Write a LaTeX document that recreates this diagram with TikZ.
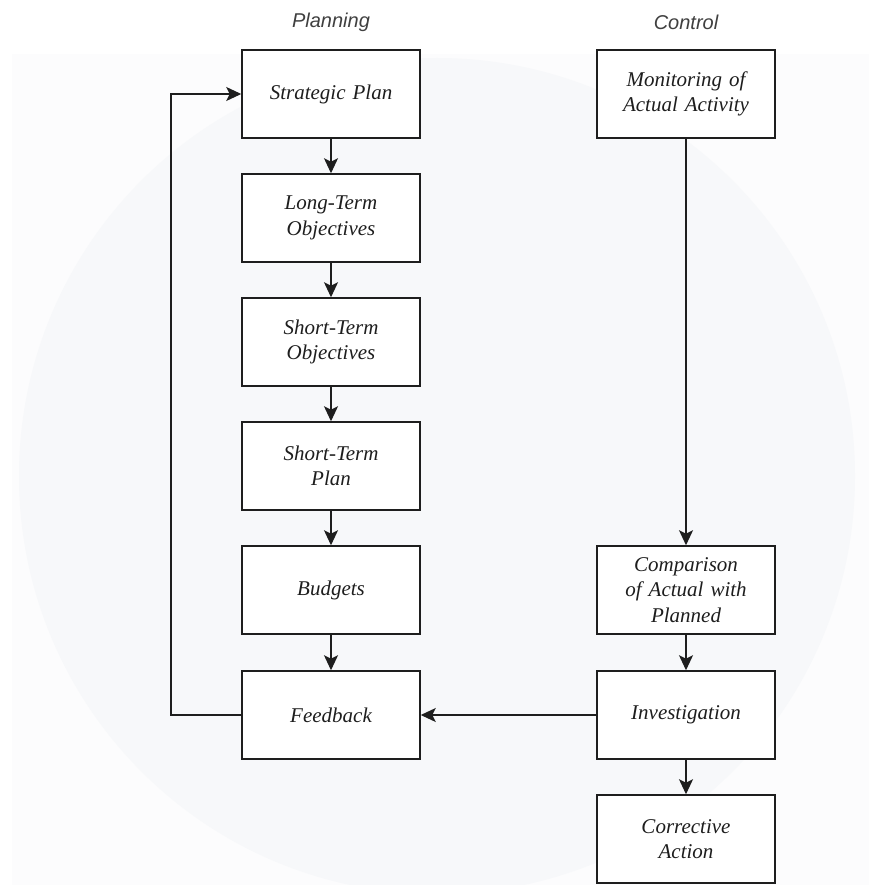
\documentclass[tikz,border=0pt]{standalone}
\usepackage{fontspec}
\setmainfont{Liberation Serif}
\setsansfont{Liberation Sans}
\usetikzlibrary{arrows.meta}
\definecolor{bgrect}{HTML}{FCFCFD}
\definecolor{bgcirc}{HTML}{F7F8FA}
\definecolor{ink}{HTML}{1E1E1E}
\tikzset{
  box/.style={draw=ink, line width=1.5pt, fill=white, minimum width=178pt, minimum height=88pt,
    inner sep=2pt, align=center, text width=170pt,
    font=\fontsize{21}{25.5}\selectfont\itshape, text=ink},
  head/.style={font=\sffamily\itshape\fontsize{20}{24}\selectfont, text=ink!85},
  arr/.style={draw=ink, line width=1.5pt, -{Stealth[length=15pt,width=14pt,inset=3.5pt]}},
  ln/.style={draw=ink, line width=1.5pt}
}
\begin{document}
\begin{tikzpicture}[x=1pt,y=-1pt]
\useasboundingbox (0,0) rectangle (869,885);
% faint watermark background
\fill[white] (0,0) rectangle (869,885);
\fill[bgrect] (12,54) rectangle (869,885);
\begin{scope}
\clip (12,54) rectangle (869,885);
\fill[bgcirc] (437,476) circle[radius=418];
\end{scope}
% headers
\node[head] (hp) at (331,22) {Planning};
\node[head] (hc) at (686,22) {Control};
% left column
\node[box] (sp) at (331,94) {Strategic Plan};
\node[box] (lt) at (331,218) {Long-Term\\Objectives};
\node[box] (so) at (331,342) {Short-Term\\Objectives};
\node[box] (stp) at (331,466) {Short-Term\\Plan};
\node[box] (bu) at (331,590) {Budgets};
\node[box] (fb) at (331,715) {Feedback};
% right column
\node[box] (mo) at (686,94) {Monitoring of\\Actual Activity};
\node[box] (cp) at (686,590) {Comparison\\of Actual with\\Planned};
\node[box] (inv) at (686,715) {Investigation};
\node[box] (ca) at (686,839) {Corrective\\Action};
% connectors
\draw[arr] (sp) -- (lt);
\draw[arr] (lt) -- (so);
\draw[arr] (so) -- (stp);
\draw[arr] (stp) -- (bu);
\draw[arr] (bu) -- (fb);
\draw[arr] (mo) -- (cp);
\draw[arr] (cp) -- (inv);
\draw[arr] (inv) -- (ca);
\draw[arr] (inv) -- (fb);
\coordinate (lb) at (171,715);
\coordinate (lt2) at (171,94);
\draw[arr] (fb.west) -- (lb) -- (lt2) -- (sp.west);
\end{tikzpicture}
\end{document}
